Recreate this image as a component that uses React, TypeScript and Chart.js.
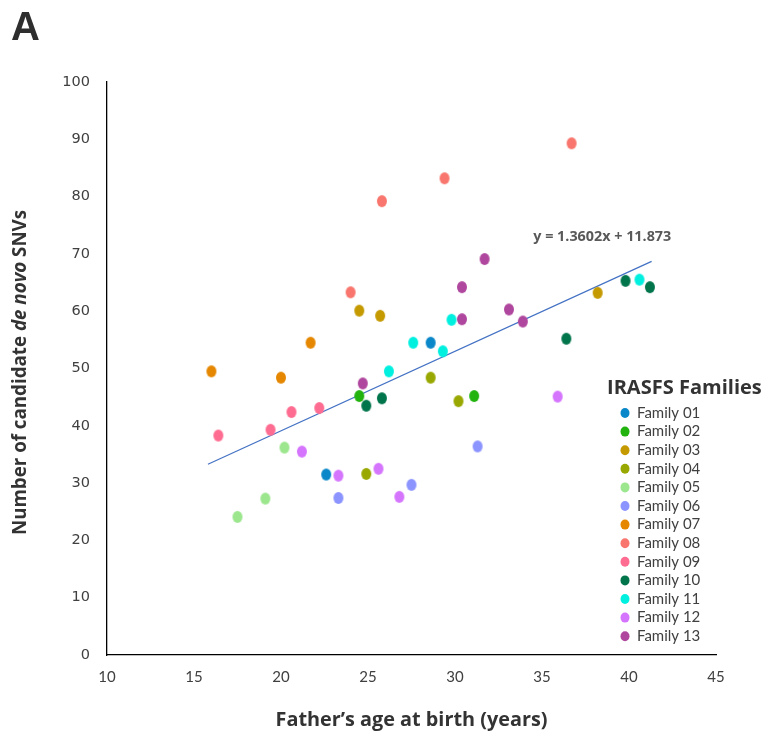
import React, { useEffect, useRef } from "react";
import { Chart, registerables } from "chart.js";

Chart.register(...registerables);

const familyNames = [
  "Family 01", "Family 02", "Family 03", "Family 04", "Family 05", "Family 06", "Family 07",
  "Family 08", "Family 09", "Family 10", "Family 11", "Family 12", "Family 13",
];

const familyColors = [
  "#0A87C8", "#22B30F", "#C49A00", "#99A800", "#9CE68E", "#8C94FF", "#E58700",
  "#F8766D", "#FF6C91", "#00744B", "#00F0E0", "#D575FE", "#B0479E",
];

// father's age (x) and number of candidate de novo SNVs (y), per family
const f01x = [22.6, 28.6];
const f01y = [31.5, 54.5];
const f02x = [24.5, 31.1];
const f02y = [45.2, 45.2];
const f03x = [24.5, 25.7, 38.2];
const f03y = [60.1, 59.2, 63.2];
const f04x = [28.6, 30.2, 24.9];
const f04y = [48.4, 44.3, 31.6];
const f05x = [17.5, 19.1, 20.2];
const f05y = [24.1, 27.3, 36.2];
const f06x = [23.3, 27.5, 31.3];
const f06y = [27.4, 29.7, 36.4];
const f07x = [16.0, 20.0, 21.7];
const f07y = [49.5, 48.4, 54.5];
const f08x = [24.0, 25.8, 29.4, 36.7];
const f08y = [63.3, 79.2, 83.2, 89.3];
const f09x = [16.4, 19.4, 20.6, 22.2];
const f09y = [38.3, 39.3, 42.4, 43.1];
const f10x = [24.9, 25.8, 36.4, 39.8, 41.2];
const f10y = [43.5, 44.8, 55.2, 65.3, 64.2];
const f11x = [26.2, 27.6, 29.3, 29.8, 40.6];
const f11y = [49.5, 54.5, 53.0, 58.5, 65.5];
const f12x = [21.2, 23.3, 25.6, 26.8, 35.9];
const f12y = [35.5, 31.3, 32.5, 27.6, 45.1];
const f13x = [24.7, 30.4, 31.7, 30.4, 33.1, 33.9];
const f13y = [47.4, 64.2, 69.1, 58.6, 60.3, 58.2];

const familyX = [f01x, f02x, f03x, f04x, f05x, f06x, f07x, f08x, f09x, f10x, f11x, f12x, f13x];
const familyY = [f01y, f02y, f03y, f04y, f05y, f06y, f07y, f08y, f09y, f10y, f11y, f12y, f13y];

// trend line end points
const trendX = [15.8, 41.3];
const trendY = [33.3, 68.7];
const trendLabel = "y = 1.3602x + 11.873";
const trendLabelPos = [34.5, 72.9];

const xTicks = [10, 15, 20, 25, 30, 35, 40, 45];
const yTicks = [0, 10, 20, 30, 40, 50, 60, 70, 80, 90, 100];

const legendTitle = "IRASFS Families";
const xTitle = "Father\u2019s age at birth (years)";
const yTitleParts = ["Number of candidate ", "de novo", " SNVs"];
const panelLabel = "A";

function ellipseMarker(color: string, rx: number, ry: number) {
  const c = document.createElement("canvas");
  c.width = Math.ceil(rx * 2 + 2);
  c.height = Math.ceil(ry * 2 + 2);
  const g = c.getContext("2d")!;
  g.fillStyle = color;
  g.beginPath();
  g.ellipse(c.width / 2, c.height / 2, rx, ry, 0, 0, Math.PI * 2);
  g.fill();
  return c;
}

const FONT = "Lato, 'Noto Sans', sans-serif";
const BOLD = "'Open Sans', 'Noto Sans', sans-serif";

function fitFont(ctx: any, text: string, style: string, family: string, target: number) {
  ctx.font = `${style} 20px ${family}`;
  const w = ctx.measureText(text).width;
  const size = (20 * target) / w;
  return `${style} ${size.toFixed(2)}px ${family}`;
}

const decorPlugin = {
  id: "decor",
  afterDraw(chart: any) {
    const ctx = chart.ctx;
    const xs = chart.scales.x;
    const ys = chart.scales.y;
    const area = chart.chartArea;
    ctx.save();

    // panel label
    ctx.fillStyle = "#2e2e2e";
    ctx.font = "bold 40px 'Liberation Sans', Arial, sans-serif";
    ctx.textAlign = "left";
    ctx.textBaseline = "alphabetic";
    ctx.fillText(panelLabel, 11, 40);

    // trend equation
    ctx.fillStyle = "#595959";
    ctx.font = fitFont(ctx, trendLabel, "bold", BOLD, 138);
    ctx.textBaseline = "middle";
    ctx.fillText(trendLabel, xs.getPixelForValue(trendLabelPos[0]), ys.getPixelForValue(trendLabelPos[1]));

    // x title
    ctx.fillStyle = "#333333";
    ctx.font = fitFont(ctx, xTitle, "bold", BOLD, 272);
    ctx.textAlign = "center";
    ctx.textBaseline = "middle";
    ctx.fillText(xTitle, (area.left + area.right) / 2, 720);

    // y title with italic part
    ctx.save();
    ctx.translate(21, (area.top + area.bottom) / 2 + 4);
    ctx.rotate(-Math.PI / 2);
    const base = fitFont(ctx, yTitleParts.join(""), "bold", BOLD, 330);
    const fonts = [base, base.replace("bold", "italic bold"), base];
    let total = 0;
    const widths: number[] = [];
    yTitleParts.forEach((p, i) => {
      ctx.font = fonts[i];
      const w = ctx.measureText(p).width;
      widths.push(w);
      total += w;
    });
    let cx = -total / 2;
    ctx.textAlign = "left";
    yTitleParts.forEach((p, i) => {
      ctx.font = fonts[i];
      ctx.fillText(p, cx, 0);
      cx += widths[i];
    });
    ctx.restore();

    // legend
    ctx.textAlign = "left";
    ctx.textBaseline = "middle";
    ctx.fillStyle = "#333333";
    ctx.font = fitFont(ctx, legendTitle, "bold", BOLD, 155);
    ctx.fillText(legendTitle, 607, 388);
    ctx.font = `15px ${FONT}`;
    familyNames.forEach((name, i) => {
      const cy = 413 + i * 18.6;
      ctx.fillStyle = familyColors[i];
      ctx.beginPath();
      ctx.ellipse(625, cy, 4.5, 5, 0, 0, Math.PI * 2);
      ctx.fill();
      ctx.fillStyle = "#404040";
      ctx.fillText(name, 637, cy);
    });

    ctx.restore();
  },
};

export default function App() {
  const ref = useRef<HTMLCanvasElement | null>(null);

  useEffect(() => {
    if (!ref.current) return;
    const datasets: any[] = familyNames.map((name, i) => ({
      type: "scatter",
      label: name,
      data: familyX[i].map((x, j) => ({ x, y: familyY[i][j] })),
      pointStyle: ellipseMarker(familyColors[i], 5, 6),
      pointRadius: 6,
      backgroundColor: familyColors[i],
      borderWidth: 0,
    }));
    datasets.push({
      type: "line",
      label: "trend",
      data: trendX.map((x, j) => ({ x, y: trendY[j] })),
      borderColor: "#4472C4",
      borderWidth: 1.2,
      pointRadius: 0,
      fill: false,
    });

    const chart = new Chart(ref.current, {
      type: "scatter",
      data: { datasets },
      options: {
        responsive: false,
        animation: false,
        devicePixelRatio: 1,
        layout: { padding: { top: 82, right: 49, left: 0, bottom: 0 } },
        plugins: { legend: { display: false }, tooltip: { enabled: false } },
        scales: {
          x: {
            type: "linear",
            min: 10,
            max: 45,
            afterBuildTicks: (s: any) => {
              s.ticks = xTicks.map((v) => ({ value: v }));
            },
            afterFit: (s: any) => {
              s.height = 81;
            },
            ticks: { font: { family: FONT, size: 15 }, color: "#404040", padding: 13, maxRotation: 0 },
            grid: { display: false, drawTicks: false, tickLength: 0 },
            border: { display: true, color: "#000000", width: 1.3 },
          },
          y: {
            type: "linear",
            min: 0,
            max: 100,
            afterBuildTicks: (s: any) => {
              s.ticks = yTicks.map((v) => ({ value: v }));
            },
            afterFit: (s: any) => {
              s.width = 107;
            },
            ticks: { font: { family: "'DejaVu Sans', sans-serif", size: 14.5 }, color: "#404040", padding: 17 },
            grid: { display: false, drawTicks: false, tickLength: 0 },
            border: { display: true, color: "#000000", width: 1.3 },
          },
        },
      },
      plugins: [decorPlugin],
    } as any);
    return () => chart.destroy();
  }, []);

  return (
    <div style={{ position: "absolute", left: 0, top: 0, width: 765, height: 736, background: "#fff" }}>
      <canvas ref={ref} width={765} height={736} />
    </div>
  );
}
